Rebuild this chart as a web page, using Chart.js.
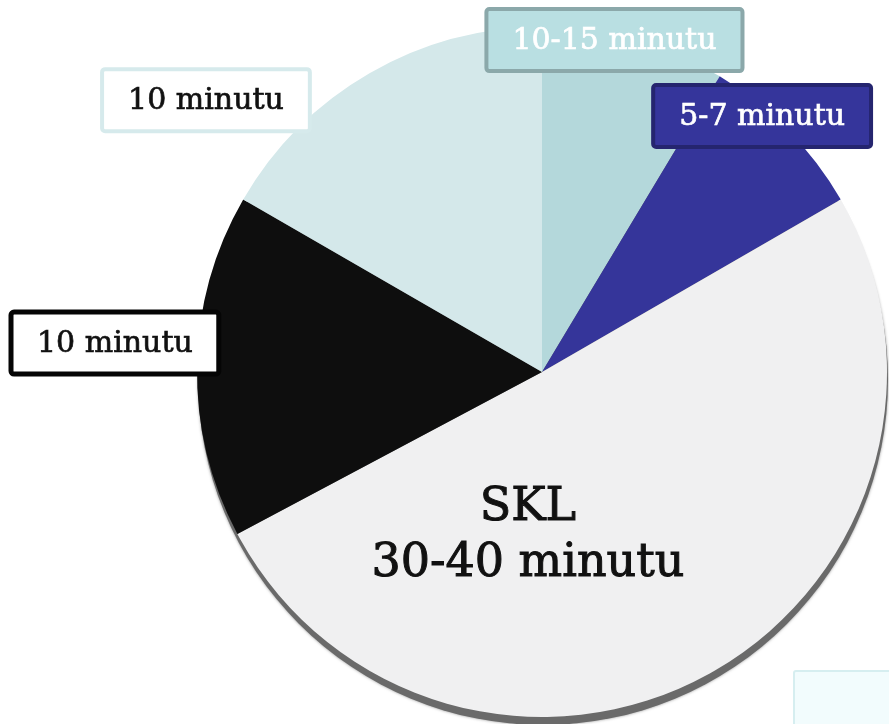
<!DOCTYPE html>
<html>
<head>
<meta charset="utf-8">
<script src="https://cdn.jsdelivr.net/npm/chart.js@4/dist/chart.umd.min.js"></script>
<style>
  html, body { margin: 0; padding: 0; background: #fff; overflow: hidden; }
  #wrap { position: relative; width: 920px; height: 724px; }
</style>
</head>
<body>
<div id="wrap"><canvas id="pieChart"></canvas></div>
<script>
// slices clockwise from 12 o'clock (values read as share of the circle, degrees)
const labels = ["10-15 minutu", "5-7 minutu", "SKL 30-40 minutu", "10 minutu", "10 minutu"];
const values = [31, 29, 182, 58, 60];
const sliceColors = ["#b4d8db", "#35359a", "#f0f0f1", "#0e0e0e", "#d4e8ea"];

// label boxes: text lines, offset from pie centre in units of radius, colours
const labelLines = [["10-15 minutu"], ["5-7 minutu"], ["SKL", "30-40 minutu"], ["10 minutu"], ["10 minutu"]];
const labelPos = [[0.21, -0.962], [0.638, -0.742], [-0.041, 0.472], [-1.238, -0.084], [-0.974, -0.788]];
const labelBox = [
  { fill: "#b9dfe2", border: "#8ba8aa", text: "#ffffff", size: 30 },
  { fill: "#35359b", border: "#25256f", text: "#ffffff", size: 30 },
  { fill: null, border: null, text: "#111111", size: 46 },
  { fill: "#ffffff", border: "#050505", text: "#111111", size: 30 },
  { fill: "#ffffff", border: "#d6eaec", text: "#111111", size: 30 },
];

const FONT = '"DejaVu Serif", serif';

const pieShadow = {
  id: "pieShadow",
  beforeDatasetsDraw(chart) {
    const arc = chart.getDatasetMeta(0).data[0];
    if (!arc) return;
    const ctx = chart.ctx;
    ctx.save();
    ctx.shadowColor = "rgba(80,80,80,0.6)";
    ctx.shadowBlur = 3;
    ctx.fillStyle = "#6a6a6a";
    ctx.beginPath();
    ctx.arc(arc.x + 1, arc.y + 8, arc.outerRadius, 0, Math.PI * 2);
    ctx.fill();
    ctx.restore();
  },
};

function roundRect(ctx, x, y, w, h, r) {
  ctx.beginPath();
  ctx.moveTo(x + r, y);
  ctx.arcTo(x + w, y, x + w, y + h, r);
  ctx.arcTo(x + w, y + h, x, y + h, r);
  ctx.arcTo(x, y + h, x, y, r);
  ctx.arcTo(x, y, x + w, y, r);
  ctx.closePath();
}

const sliceLabels = {
  id: "sliceLabels",
  afterDatasetsDraw(chart) {
    const meta = chart.getDatasetMeta(0);
    const ctx = chart.ctx;
    // partly hidden box at bottom right
    ctx.save();
    ctx.fillStyle = "#f2fcfd";
    ctx.strokeStyle = "#d6eef0";
    ctx.lineWidth = 2;
    roundRect(ctx, 794, 671, 140, 80, 2);
    ctx.fill();
    ctx.stroke();
    ctx.restore();

    meta.data.forEach((arc, i) => {
      const st = labelBox[i];
      const cx = arc.x + labelPos[i][0] * arc.outerRadius;
      const cy = arc.y + labelPos[i][1] * arc.outerRadius;
      const lines = labelLines[i];
      ctx.save();
      ctx.font = st.size + "px " + FONT;
      ctx.textAlign = "center";
      ctx.textBaseline = "middle";
      if (st.fill) {
        const w = Math.max(...lines.map((l) => ctx.measureText(l).width)) + 52;
        const h = 62;
        roundRect(ctx, cx - w / 2, cy - h / 2, w, h, 3);
        ctx.fillStyle = st.fill;
        ctx.fill();
        ctx.lineWidth = i === 3 ? 5 : 4;
        ctx.strokeStyle = st.border;
        ctx.stroke();
      }
      ctx.fillStyle = st.text;
      ctx.strokeStyle = st.text;
      ctx.lineWidth = st.size > 40 ? 1 : 0.7;
      const lh = st.size * 1.22;
      lines.forEach((l, k) => {
        const y = cy + (k - (lines.length - 1) / 2) * lh + 1;
        ctx.fillText(l, cx, y);
        ctx.strokeText(l, cx, y);
      });
      ctx.restore();
    });
  },
};

new Chart(document.getElementById("pieChart"), {
  type: "pie",
  data: {
    labels: labels,
    datasets: [
      {
        data: values,
        backgroundColor: sliceColors,
        borderWidth: 0,
        hoverOffset: 0,
      },
    ],
  },
  options: {
    responsive: true,
    maintainAspectRatio: false,
    animation: false,
    layout: {
      padding: { left: 197, top: 27, right: 33, bottom: 7 },
    },
    plugins: {
      legend: { display: false },
      tooltip: { enabled: false },
    },
  },
  plugins: [pieShadow, sliceLabels],
});
</script>
</body>
</html>
